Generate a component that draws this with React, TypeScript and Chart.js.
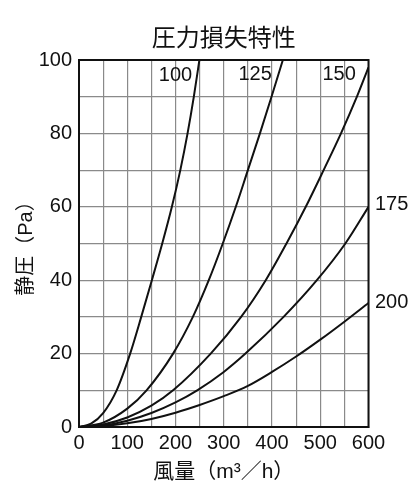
import React, { useEffect, useRef } from 'react';
import { Chart, registerables } from 'chart.js';

Chart.register(...registerables);

// ---- data ----
const chartTitle = '圧力損失特性';
const xAxisTitle = '風量（m³／h）';
const yAxisTitle = '静圧（Pa）';

const curveNames = ['100', '125', '150', '175', '200'];

const flow100 = [0, 25, 50, 78, 106, 129, 151, 172.5, 192.5, 210, 225, 238, 249.5];
const pressure100 = [0, 0.9, 3.8, 10, 20, 30, 40, 50, 60, 70, 80, 90, 100];

const flow125 = [0, 50, 100, 140, 195, 236, 269, 298, 325, 350, 375, 399, 422.5];
const pressure125 = [0, 1.2, 5, 10, 20, 30, 40, 50, 60, 70, 80, 90, 100];

const flow150 = [0, 50, 100, 150, 195, 273, 336, 387, 430, 470, 507, 543, 576, 600];
const pressure150 = [0, 0.7, 2.6, 5.8, 10, 20, 30, 40, 50, 60, 70, 80, 90, 98];

const flow175 = [0, 50, 100, 150, 200, 245, 300, 345, 424, 493, 552, 600];
const pressure175 = [0, 0.4, 1.7, 3.8, 6.7, 10, 15, 20, 30, 40, 50, 60];

const flow200 = [0, 50, 100, 150, 200, 250, 300, 350, 400, 450, 500, 550, 600];
const pressure200 = [0, 0.25, 1, 2.2, 3.9, 6, 8.4, 11.2, 15, 19.2, 23.8, 28.7, 33.8];

const xTickValues = [0, 100, 200, 300, 400, 500, 600];
const xTickLabels = ['0', '100', '200', '300', '400', '500', '600'];
const yTickValues = [0, 20, 40, 60, 80, 100];
const yTickLabels = ['0', '20', '40', '60', '80', '100'];

const flows = [flow100, flow125, flow150, flow175, flow200];
const pressures = [pressure100, pressure125, pressure150, pressure175, pressure200];

// label anchors (data units) for each curve name
const labelAnchors: [number, number][] = [
  [200, 95.9],
  [365, 96],
  [539, 96],
  [648, 60.5],
  [648, 34],
];

const LATIN = "'Liberation Sans', Arial, 'Noto Sans CJK JP', sans-serif";
const CJK = "'Liberation Sans', 'Noto Sans CJK JP', sans-serif";

const decorPlugin = {
  id: 'decor',
  afterDatasetsDraw(chart: any) {
    const { ctx, chartArea, scales } = chart;
    ctx.save();
    // frame
    ctx.strokeStyle = '#111';
    ctx.lineWidth = 2;
    ctx.strokeRect(chartArea.left, chartArea.top, chartArea.right - chartArea.left, chartArea.bottom - chartArea.top);
    // title
    ctx.fillStyle = '#111';
    ctx.textAlign = 'center';
    ctx.textBaseline = 'middle';
    ctx.font = `24px ${CJK}`;
    ctx.fillText(chartTitle, (chartArea.left + chartArea.right) / 2, 39);
    // curve labels
    ctx.font = `20px ${LATIN}`;
    curveNames.forEach((name, i) => {
      const [ax, ay] = labelAnchors[i];
      ctx.fillText(name, scales.x.getPixelForValue(ax), scales.y.getPixelForValue(ay));
    });
    ctx.restore();
  },
};

export default function App() {
  const ref = useRef<HTMLCanvasElement | null>(null);

  useEffect(() => {
    if (!ref.current) return;
    const datasets = curveNames.map((name, i) => ({
      label: name,
      data: flows[i].map((x, j) => ({ x, y: pressures[i][j] })),
      borderColor: '#111',
      borderWidth: 2,
      pointRadius: 0,
      fill: false,
      cubicInterpolationMode: 'monotone' as const,
    }));

    const chart = new Chart(ref.current, {
      type: 'line',
      data: { datasets },
      options: {
        animation: false,
        responsive: true,
        maintainAspectRatio: false,
        layout: { padding: { top: 60, right: 47.5, left: 0, bottom: 0 } },
        plugins: {
          legend: { display: false },
          tooltip: { enabled: false },
          title: { display: false },
        },
        scales: {
          x: {
            type: 'linear',
            min: 0,
            max: 600,
            afterFit: (s: any) => {
              s.height = 65;
            },
            ticks: {
              stepSize: 50,
              autoSkip: false,
              maxRotation: 0,
              padding: 4,
              color: '#111',
              font: { family: LATIN, size: 20 },
              callback: (v: any) => {
                const idx = xTickValues.indexOf(Number(v));
                return idx >= 0 ? xTickLabels[idx] : '';
              },
            },
            grid: { color: '#8a8a8a', lineWidth: 1.2, drawTicks: false },
            border: { display: true, color: '#111', width: 2 },
            title: {
              display: true,
              text: xAxisTitle,
              color: '#111',
              font: { family: CJK, size: 21 },
              padding: { top: 0, bottom: 7 },
            },
          },
          y: {
            type: 'linear',
            min: 0,
            max: 100,
            afterFit: (s: any) => {
              s.width = 79;
            },
            ticks: {
              stepSize: 10,
              autoSkip: false,
              padding: 7,
              color: '#111',
              font: { family: LATIN, size: 20 },
              callback: (v: any) => {
                const idx = yTickValues.indexOf(Number(v));
                return idx >= 0 ? yTickLabels[idx] : '';
              },
            },
            grid: { color: '#8a8a8a', lineWidth: 1.2, drawTicks: false },
            border: { display: true, color: '#111', width: 2 },
            title: {
              display: true,
              text: yAxisTitle,
              color: '#111',
              font: { family: CJK, size: 20 },
              padding: { top: 14, bottom: 0 },
            },
          },
        },
      },
      plugins: [decorPlugin],
    });
    return () => chart.destroy();
  }, []);

  return (
    <div style={{ position: 'absolute', left: 0, top: 0, width: 416, height: 492, background: '#fff' }}>
      <canvas ref={ref} />
    </div>
  );
}
